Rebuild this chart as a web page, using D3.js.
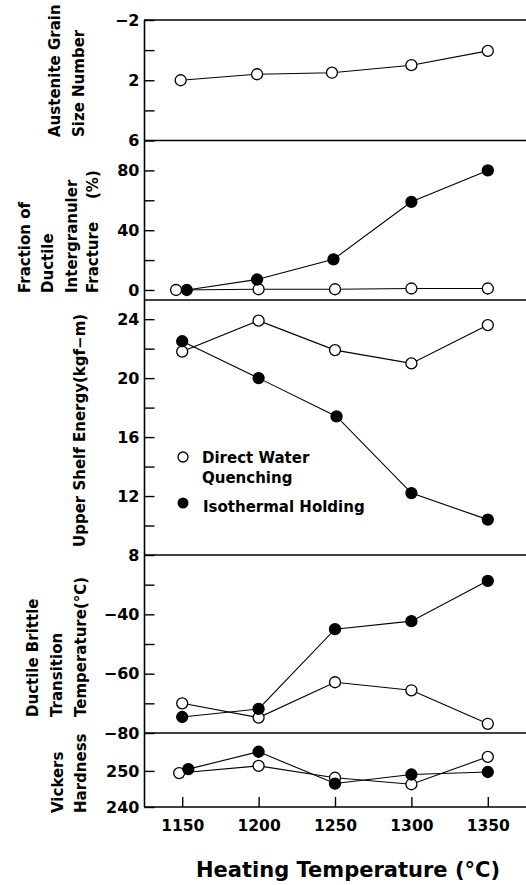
<!DOCTYPE html>
<html><head><meta charset="utf-8">
<script src="https://cdn.jsdelivr.net/npm/d3@7"></script>
<style>
body{margin:0;background:#fff}
text{font-family:"DejaVu Sans";font-weight:bold;fill:#000}
</style>
</head><body>
<svg id="c" width="526" height="885"></svg>
<script>
// ---------------- DATA ----------------
const xTicks = [1150, 1200, 1250, 1300, 1350];
const xTitle = "Heating Temperature (°C)";

// Austenite grain size number (Direct Water Quenching only)
const grainT_DWQ = [1149, 1199, 1248, 1300, 1350];
const grainDWQ   = [2.0, 1.6, 1.5, 1.0, 0.05];
const grainTicks = [-2, 2, 6];
const grainMinor = [0, 4];

// Fraction of ductile intergranular fracture (%)
const fracT_DWQ = [1146, 1200, 1250, 1300, 1350];
const fracDWQ   = [0, 0.5, 0.5, 1, 1];
const fracT_IH  = [1153, 1199, 1249, 1300, 1350];
const fracIH    = [0, 7, 20.5, 59, 80];
const fracTicks = [0, 40, 80];
const fracMinor = [20, 60];

// Upper shelf energy (kgf-m)
const useT_DWQ = [1150, 1200, 1250, 1300, 1350];
const useDWQ   = [21.8, 23.9, 21.9, 21.0, 23.6];
const useT_IH  = [1150, 1200, 1251, 1300, 1350];
const useIH    = [22.5, 20.0, 17.4, 12.2, 10.4];
const useTicks = [8, 12, 16, 20, 24];
const useMinor = [10, 14, 18, 22];

// Ductile brittle transition temperature (°C)
const dbttT_DWQ = [1150, 1200, 1250, 1300, 1350];
const dbttDWQ   = [-70, -74.8, -62.9, -65.6, -76.9];
const dbttT_IH  = [1150, 1200, 1250, 1300, 1350];
const dbttIH    = [-74.6, -71.9, -45, -42.3, -28.7];
const dbttTicks = [-80, -60, -40];
const dbttMinor = [-70, -50, -30];

// Vickers hardness
const hvT_DWQ = [1148, 1200, 1250, 1300, 1350];
const hvDWQ   = [249.4, 251.4, 248.1, 246.3, 253.9];
const hvT_IH  = [1154, 1200, 1250, 1300, 1350];
const hvIH    = [250.5, 255.3, 246.5, 249.0, 249.7];
const hvTicks = [240, 250];
const hvMinor = [];

const legendLabels = [["Direct Water", "Quenching"], ["Isothermal Holding"]];

// ---------------- DRAW ----------------
const svg = d3.select("#c");
const X0 = 144, X1 = 526;
const x = d3.scaleLinear().domain([1125, 1375]).range([X0, X1]);

const panels = [
  {top: 20, bottom: 140.5, domain: [-2, 6], rev: true, major: grainTicks, minor: grainMinor,
   series: [{t: grainT_DWQ, v: grainDWQ, filled: false}],
   title: [{lines: ["Austenite Grain"], cx: 55, y: 137}, {lines: ["Size Number"], cx: 78.5, y: 137}]},
  {top: 140.5, bottom: 300, domain: [-6.7, 100], major: fracTicks, minor: fracMinor,
   series: [{t: fracT_DWQ, v: fracDWQ, filled: false}, {t: fracT_IH, v: fracIH, filled: true}],
   title: [{lines: ["Fraction of"], cx: 25, y: 293}, {lines: ["Ductile"], cx: 48, y: 293},
           {lines: ["Intergranuler"], cx: 71.5, y: 293}, {lines: ["Fracture"], cx: 93, y: 293},
           {lines: ["(%)"], cx: 93, y: 199}]},
  {top: 300, bottom: 555, domain: [8, 25.3], major: useTicks, minor: useMinor,
   series: [{t: useT_DWQ, v: useDWQ, filled: false}, {t: useT_IH, v: useIH, filled: true}],
   title: [{lines: ["Upper Shelf Energy(kgf−m)"], cx: 79.5, y: 547}]},
  {top: 555, bottom: 733, domain: [-80, -20], major: dbttTicks, minor: dbttMinor,
   series: [{t: dbttT_DWQ, v: dbttDWQ, filled: false}, {t: dbttT_IH, v: dbttIH, filled: true}],
   title: [{lines: ["Ductile Brittle"], cx: 33, y: 717}, {lines: ["Transition"], cx: 57, y: 717},
           {lines: ["Temperature(°C)"], cx: 80.5, y: 717}]},
  {top: 733, bottom: 807, domain: [240, 260.5], major: hvTicks, minor: hvMinor,
   series: [{t: hvT_DWQ, v: hvDWQ, filled: false}, {t: hvT_IH, v: hvIH, filled: true}],
   title: [{lines: ["Vickers"], cx: 57.5, y: 813}, {lines: ["Hardness"], cx: 81, y: 813}]}
];

const R = 5.5;

panels.forEach(p => {
  const y = d3.scaleLinear().domain(p.domain).range(p.rev ? [p.top, p.bottom] : [p.bottom, p.top]);
  // minor ticks
  const gm = svg.append("g").attr("transform", `translate(${X0 + 0.5},0)`)
    .call(d3.axisLeft(y).tickValues(p.minor).tickSize(-10).tickFormat(""));
  gm.select(".domain").remove();
  gm.selectAll("line").attr("stroke", "#000").attr("stroke-width", 1.4);
  // major ticks
  const ga = svg.append("g").attr("transform", `translate(${X0 + 0.5},0)`)
    .call(d3.axisLeft(y).tickValues(p.major).tickSize(-10).tickPadding(5));
  ga.select(".domain").remove();
  ga.selectAll("line").attr("stroke", "#000").attr("stroke-width", 1.4);
  ga.selectAll("text").attr("font-size", 16).attr("font-family", "DejaVu Sans").attr("font-weight", "bold").attr("fill", "#000");

  // lines
  const line = d3.line().x(d => x(d[0])).y(d => y(d[1]));
  p.series.forEach(s => {
    svg.append("path").datum(s.t.map((t, i) => [t, s.v[i]]))
      .attr("d", line).attr("fill", "none").attr("stroke", "#000").attr("stroke-width", 1.1);
  });
  // markers: open first, filled on top
  [false, true].forEach(f => {
    p.series.filter(s => s.filled === f).forEach(s => {
      svg.append("g").selectAll("circle").data(s.t.map((t, i) => [t, s.v[i]])).join("circle")
        .attr("cx", d => x(d[0])).attr("cy", d => y(d[1])).attr("r", R)
        .attr("fill", f ? "#000" : "#fff").attr("stroke", "#000").attr("stroke-width", 1.3);
    });
  });

  // titles
  p.title.forEach(tt => {
    svg.append("text").attr("transform", `translate(${tt.cx + 5.4},${tt.y}) rotate(-90)`)
      .attr("font-size", 15).attr("text-anchor", "start").text(tt.lines[0]);
  });
});

// panel separators
const hLines = [20, 140.5, 300, 555, 733];
svg.append("g").selectAll("line").data(hLines).join("line")
  .attr("x1", X0).attr("x2", X1).attr("y1", d => d).attr("y2", d => d)
  .attr("stroke", "#000").attr("stroke-width", 1.5);
// left axis line
svg.append("line").attr("x1", X0 + 0.5).attr("x2", X0 + 0.5).attr("y1", 20).attr("y2", 807)
  .attr("stroke", "#000").attr("stroke-width", 1.6);

// x axis
const gx = svg.append("g").attr("transform", "translate(0,807)")
  .call(d3.axisBottom(x).tickValues(xTicks).tickSize(-10).tickPadding(13).tickFormat(d3.format("d")));
gx.select(".domain").attr("stroke", "#000").attr("stroke-width", 1.6).attr("d", `M${X0},0H${X1}`);
gx.selectAll("line").attr("stroke", "#000").attr("stroke-width", 1.4);
gx.selectAll("text").attr("font-size", 15.5).attr("font-family", "DejaVu Sans").attr("font-weight", "bold").attr("fill", "#000");

svg.append("text").attr("x", 348).attr("y", 877).attr("text-anchor", "middle")
  .attr("font-size", 21).text(xTitle);

// legend
const lg = svg.append("g");
lg.append("circle").attr("cx", 183).attr("cy", 457).attr("r", 5).attr("fill", "#fff").attr("stroke", "#000").attr("stroke-width", 1.3);
lg.append("text").attr("x", 202).attr("y", 463).attr("font-size", 15).text(legendLabels[0][0]);
lg.append("text").attr("x", 202).attr("y", 483).attr("font-size", 15).text(legendLabels[0][1]);
lg.append("circle").attr("cx", 183).attr("cy", 503).attr("r", 5.5).attr("fill", "#000");
lg.append("text").attr("x", 203).attr("y", 511.5).attr("font-size", 15).text(legendLabels[1][0]);
</script>
</body></html>
